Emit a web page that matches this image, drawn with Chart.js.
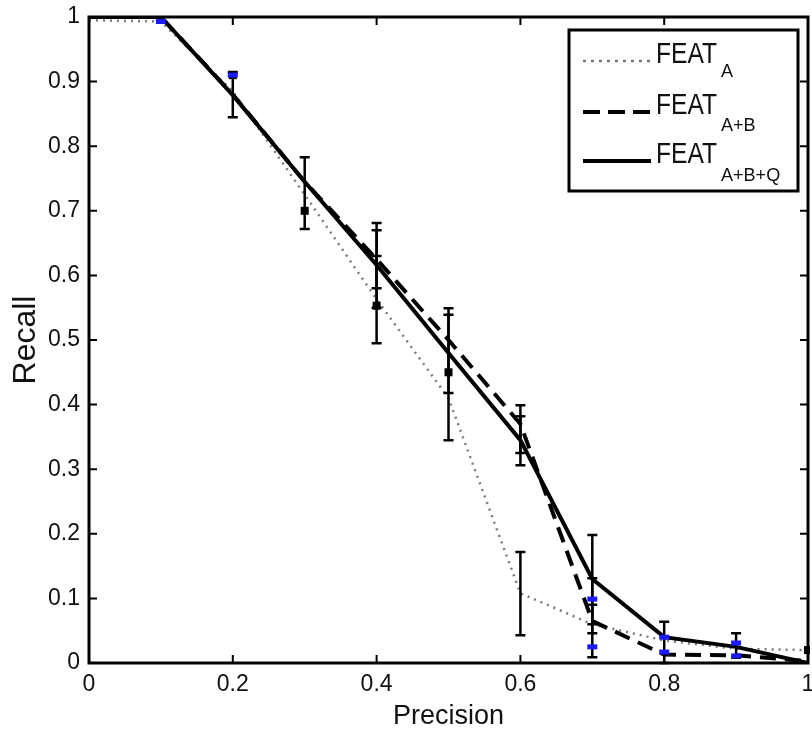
<!DOCTYPE html>
<html>
<head>
<meta charset="utf-8">
<script src="https://cdn.jsdelivr.net/npm/chart.js@4.4.1/dist/chart.umd.min.js"></script>
<style>
  html, body { margin: 0; padding: 0; background: #ffffff; }
  #wrap { width: 812px; height: 735px; }
</style>
</head>
<body>
<div id="wrap"><canvas id="c" width="812" height="735"></canvas></div>
<script>
// ---------- data ----------
const precision = [0, 0.1, 0.2, 0.3, 0.4, 0.5, 0.6, 0.7, 0.8, 0.9, 1.0];
const recallA   = [0.995, 0.993, 0.885, 0.725, 0.563, 0.41, 0.108, 0.06, 0.035, 0.022, 0.02];
const recallAB  = [1.0, 1.0, 0.88, 0.745, 0.625, 0.50, 0.37, 0.065, 0.013, 0.012, 0.003];
const recallABQ = [1.0, 1.0, 0.879, 0.745, 0.616, 0.48, 0.345, 0.13, 0.04, 0.025, 0.0];

const legendMain = ['FEAT', 'FEAT', 'FEAT'];
const legendSub  = ['A', 'A+B', 'A+B+Q'];

// error bars (black)
const errX    = [0.2,   0.3,   0.4,   0.4,   0.4,   0.5,   0.5,   0.6,   0.6,   0.6,   0.7,   0.7,   0.7,   0.8,   0.9];
const errLow  = [0.845, 0.672, 0.495, 0.55,  0.58,  0.345, 0.418, 0.306, 0.325, 0.043, 0.06,  0.009, 0.046, 0.0,   0.008];
const errHigh = [0.915, 0.783, 0.630, 0.681, 0.670, 0.549, 0.539, 0.399, 0.382, 0.172, 0.198, 0.131, 0.09,  0.064, 0.046];

// square markers (black)
const markX = [0.2,  0.3,  0.4,   0.5,  1.0];
const markY = [0.91, 0.70, 0.553, 0.45, 0.02];

// blue cap marks
const blueX = [0.1,   0.2,  0.7,   0.7,   0.8,  0.8,   0.9,   0.9];
const blueY = [0.993, 0.91, 0.099, 0.025, 0.04, 0.017, 0.031, 0.011];

// ticks
const xTicks = [0, 0.2, 0.4, 0.6, 0.8, 1];
const xTickLabels = ['0', '0.2', '0.4', '0.6', '0.8', '1'];
const yTicks = [0, 0.1, 0.2, 0.3, 0.4, 0.5, 0.6, 0.7, 0.8, 0.9, 1];
const yTickLabels = ['0', '0.1', '0.2', '0.3', '0.4', '0.5', '0.6', '0.7', '0.8', '0.9', '1'];

// ---------- style ----------
const FONT = "'Liberation Sans', Arial, sans-serif";

function pts(ys) { return precision.map((x, i) => ({ x: x, y: ys[i] })); }

const frameAndMarks = {
  id: 'frameAndMarks',
  afterDatasetsDraw(chart) {
    const ctx = chart.ctx, a = chart.chartArea;
    const xs = chart.scales.x, ys = chart.scales.y;
    ctx.save();
    ctx.beginPath();
    ctx.rect(a.left - 2, a.top - 2, a.right - a.left + 4, a.bottom - a.top + 4);
    ctx.clip();
    // error bars
    ctx.strokeStyle = '#000';
    ctx.lineWidth = 2.5;
    for (let i = 0; i < errX.length; i++) {
      const px = xs.getPixelForValue(errX[i]);
      const y1 = ys.getPixelForValue(errLow[i]);
      const y2 = ys.getPixelForValue(errHigh[i]);
      ctx.beginPath();
      ctx.moveTo(px, y1); ctx.lineTo(px, y2);
      ctx.moveTo(px - 5, y1); ctx.lineTo(px + 5, y1);
      ctx.moveTo(px - 5, y2); ctx.lineTo(px + 5, y2);
      ctx.stroke();
    }
    // square markers
    ctx.fillStyle = '#000';
    for (let i = 0; i < markX.length; i++) {
      const px = xs.getPixelForValue(markX[i]);
      const py = ys.getPixelForValue(markY[i]);
      ctx.fillRect(px - 4, py - 4, 8, 8);
    }
    // blue marks
    ctx.fillStyle = '#1a1aff';
    for (let i = 0; i < blueX.length; i++) {
      const px = xs.getPixelForValue(blueX[i]);
      const py = ys.getPixelForValue(blueY[i]);
      ctx.fillRect(px - 5, py - 2.5, 10, 5);
    }
    ctx.restore();

    // frame
    ctx.save();
    ctx.strokeStyle = '#000';
    ctx.lineWidth = 3;
    ctx.strokeRect(a.left, a.top, a.right - a.left, a.bottom - a.top);
    // inward ticks on all four sides
    ctx.lineWidth = 2;
    ctx.beginPath();
    xTicks.forEach(v => {
      const px = xs.getPixelForValue(v);
      ctx.moveTo(px, a.bottom); ctx.lineTo(px, a.bottom - 8);
      ctx.moveTo(px, a.top); ctx.lineTo(px, a.top + 8);
    });
    yTicks.forEach(v => {
      const py = ys.getPixelForValue(v);
      ctx.moveTo(a.left, py); ctx.lineTo(a.left + 8, py);
      ctx.moveTo(a.right, py); ctx.lineTo(a.right - 8, py);
    });
    ctx.stroke();
    ctx.restore();

    // legend
    ctx.save();
    const bx = 569, by = 30, bw = 229, bh = 161;
    ctx.fillStyle = '#fff';
    ctx.fillRect(bx, by, bw, bh);
    ctx.strokeStyle = '#000';
    ctx.lineWidth = 3;
    ctx.strokeRect(bx, by, bw, bh);
    const baselines = [63, 114, 163];
    const subBase = [77, 131, 181];
    chart.data.datasets.forEach((ds, i) => {
      const ly = baselines[i] - 2;
      ctx.beginPath();
      ctx.strokeStyle = ds.borderColor;
      ctx.lineWidth = ds.borderWidth;
      ctx.setLineDash(ds.legendDash || []);
      ctx.moveTo(583, ly); ctx.lineTo(651, ly);
      ctx.stroke();
      ctx.setLineDash([]);
      ctx.fillStyle = '#111';
      ctx.textBaseline = 'alphabetic';
      ctx.textAlign = 'left';
      const sx = 0.82;
      ctx.save();
      ctx.scale(sx, 1);
      ctx.font = '30px ' + FONT;
      ctx.fillText(legendMain[i], 656 / sx, baselines[i]);
      ctx.restore();
      ctx.save();
      ctx.scale(0.95, 1);
      ctx.font = '19px ' + FONT;
      ctx.fillText(legendSub[i], 721 / 0.95, subBase[i]);
      ctx.restore();
    });
    ctx.restore();
  }
};

new Chart(document.getElementById('c'), {
  type: 'scatter',
  data: {
    datasets: [
      { label: 'FEAT_A', data: pts(recallA), showLine: true, borderColor: '#7a7a7a',
        borderWidth: 2.5, borderDash: [2, 5], legendDash: [3, 5], pointRadius: 0, order: 3 },
      { label: 'FEAT_A+B', data: pts(recallAB), showLine: true, borderColor: '#000',
        borderWidth: 4, borderDash: [16, 9], legendDash: [17, 8], pointRadius: 0, order: 2 },
      { label: 'FEAT_A+B+Q', data: pts(recallABQ), showLine: true, borderColor: '#000',
        borderWidth: 4, pointRadius: 0, order: 1 }
    ]
  },
  options: {
    responsive: false,
    animation: false,
    layout: { padding: { top: 17, right: 4, left: 0, bottom: 0 } },
    plugins: { legend: { display: false }, tooltip: { enabled: false } },
    scales: {
      x: {
        type: 'linear', min: 0, max: 1,
        grid: { display: false, drawTicks: false },
        border: { display: false },
        afterBuildTicks: s => { s.ticks = xTicks.map(v => ({ value: v })); },
        afterFit: s => { s.height = 72; s.paddingLeft = 0; s.paddingRight = 0; },
        ticks: {
          padding: 8, color: '#111', maxRotation: 0, autoSkip: false,
          font: { family: FONT, size: 23 },
          callback: (v, i) => xTickLabels[i]
        },
        title: { display: true, text: 'Precision', color: '#111',
          font: { family: FONT, size: 27 }, padding: { top: 0, bottom: 2 } }
      },
      y: {
        type: 'linear', min: 0, max: 1,
        grid: { display: false, drawTicks: false },
        border: { display: false },
        afterBuildTicks: s => { s.ticks = yTicks.map(v => ({ value: v })); },
        afterFit: s => { s.width = 89; s.paddingTop = 0; s.paddingBottom = 0; },
        ticks: {
          padding: 9, color: '#111', autoSkip: false,
          font: { family: FONT, size: 23 },
          callback: (v, i) => yTickLabels[i]
        },
        title: { display: true, text: 'Recall', color: '#111',
          font: { family: FONT, size: 32 }, padding: { top: 7, bottom: 0 } }
      }
    }
  },
  plugins: [frameAndMarks]
});
</script>
</body>
</html>
